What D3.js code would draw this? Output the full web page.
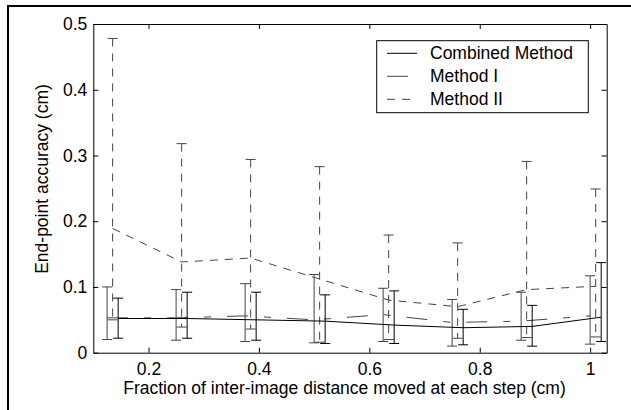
<!DOCTYPE html>
<html lang="en">
<head>
    <meta charset="UTF-8">
    <title>End-point accuracy</title>
    <script src="https://d3js.org/d3.v7.min.js"></script>
    <style>
        body { margin: 0; background: #fff; }
        svg text { font-family: "Liberation Sans", Arial, sans-serif; font-size: 17.5px; fill: #000; }
    </style>
</head>
<body>
    <script>
        // fraction of inter-image distance (each method is drawn slightly offset)
        var steps = [0.125, 0.25, 0.375, 0.5, 0.625, 0.75, 0.875, 1.0];

        var combinedMean  = [0.052, 0.052, 0.050, 0.048, 0.042, 0.038, 0.040, 0.054];
        var combinedUpper = [0.083, 0.092, 0.092, 0.088, 0.094, 0.066, 0.072, 0.137];
        var combinedLower = [0.022, 0.022, 0.019, 0.014, 0.014, 0.012, 0.010, 0.017];

        var method1Mean  = [0.053, 0.053, 0.056, 0.050, 0.058, 0.046, 0.048, 0.056];
        var method1Upper = [0.100, 0.096, 0.105, 0.119, 0.098, 0.081, 0.092, 0.117];
        var method1Lower = [0.020, 0.019, 0.017, 0.015, 0.017, 0.010, 0.019, 0.013];

        var method2Mean  = [0.189, 0.138, 0.144, 0.112, 0.080, 0.070, 0.096, 0.101];
        var method2Upper = [0.478, 0.318, 0.294, 0.283, 0.179, 0.167, 0.291, 0.249];
        var method2Lower = [0.050, 0.039, 0.036, 0.016, 0.020, 0.022, 0.023, 0.024];

        var xTicks = [0.2, 0.4, 0.6, 0.8, 1];
        var yTicks = [0, 0.1, 0.2, 0.3, 0.4, 0.5];
        var legendLabels = ["Combined Method", "Method I", "Method II"];

        var width = 631, height = 410;
        var pl = 93.3, pr = 606.7, pt = 24, pb = 352.7;

        var svg = d3.select("body").append("svg")
            .attr("width", width)
            .attr("height", height);

        // outer figure frame (runs off the right and bottom of the picture)
        svg.append("rect")
            .attr("x", 8).attr("y", 6)
            .attr("width", 700).attr("height", 500)
            .attr("fill", "none")
            .attr("stroke", "#000")
            .attr("stroke-width", 2);

        var x = d3.scaleLinear().domain([0.1, 1.03]).range([pl, pr]);
        var y = d3.scaleLinear().domain([0, 0.5]).range([pb, pt]);

        var fmt = function (d) { return String(+d.toFixed(1)); };

        // axes, ticks pointing inwards on all four sides
        svg.append("g")
            .attr("transform", "translate(0," + pb + ")")
            .call(d3.axisBottom(x).tickValues(xTicks).tickFormat(fmt).tickSizeInner(-5).tickSizeOuter(0).tickPadding(10));
        svg.append("g")
            .attr("transform", "translate(0," + pt + ")")
            .call(d3.axisTop(x).tickValues(xTicks).tickFormat("").tickSizeInner(-5).tickSizeOuter(0));
        svg.append("g")
            .attr("transform", "translate(" + pl + ",0)")
            .call(d3.axisLeft(y).tickValues(yTicks).tickFormat(fmt).tickSizeInner(-5).tickSizeOuter(0).tickPadding(6));
        svg.append("g")
            .attr("transform", "translate(" + pr + ",0)")
            .call(d3.axisRight(y).tickValues(yTicks).tickFormat("").tickSizeInner(-5).tickSizeOuter(0));

        svg.selectAll(".domain, .tick line").attr("stroke", "#000").attr("stroke-width", 1);
        svg.selectAll(".tick text").attr("font-size", 17.5).attr("font-family", null);

        var series = [
            { mean: method1Mean, up: method1Upper, lo: method1Lower, dx: 0,    color: "#444", dash: "21,16,7,16", barDash: null },
            { mean: method2Mean, up: method2Upper, lo: method2Lower, dx: 0.01, color: "#444", dash: "8,7",        barDash: "8,7" },
            { mean: combinedMean, up: combinedUpper, lo: combinedLower, dx: 0.02, color: "#000", dash: null,     barDash: null }
        ];

        var cap = 5;
        series.forEach(function (s) {
            var pts = steps.map(function (st, i) {
                return { x: st + s.dx, m: s.mean[i], u: s.up[i], l: s.lo[i] };
            });
            var g = svg.append("g");

            g.selectAll("line.bar").data(pts).enter().append("line")
                .attr("x1", function (d) { return x(d.x); })
                .attr("x2", function (d) { return x(d.x); })
                .attr("y1", function (d) { return y(d.u); })
                .attr("y2", function (d) { return y(d.l); })
                .attr("stroke", s.color)
                .attr("stroke-dasharray", s.barDash);

            ["u", "l"].forEach(function (k) {
                g.selectAll("line.cap" + k).data(pts).enter().append("line")
                    .attr("x1", function (d) { return x(d.x) - cap; })
                    .attr("x2", function (d) { return x(d.x) + cap; })
                    .attr("y1", function (d) { return y(d[k]); })
                    .attr("y2", function (d) { return y(d[k]); })
                    .attr("stroke", s.color);
            });

            g.append("path")
                .datum(pts)
                .attr("fill", "none")
                .attr("stroke", s.color)
                .attr("stroke-dasharray", s.dash)
                .attr("d", d3.line().x(function (d) { return x(d.x); }).y(function (d) { return y(d.m); }));
        });

        // legend
        var legendOrder = [series[2], series[0], series[1]];
        var lg = svg.append("g");
        lg.append("rect")
            .attr("x", 376.7).attr("y", 40.7)
            .attr("width", 211.6).attr("height", 72)
            .attr("fill", "#fff")
            .attr("stroke", "#000");
        legendLabels.forEach(function (name, i) {
            var yy = 53.3 + i * 23;
            lg.append("line")
                .attr("x1", 387).attr("x2", 417)
                .attr("y1", yy).attr("y2", yy)
                .attr("stroke", legendOrder[i].color)
                .attr("stroke-dasharray", legendOrder[i].dash);
            lg.append("text")
                .attr("x", 430).attr("y", yy)
                .attr("dy", "0.35em")
                .text(name);
        });

        // axis titles
        svg.append("text")
            .attr("x", 344.5).attr("y", 394)
            .attr("text-anchor", "middle")
            .text("Fraction of inter-image distance moved at each step (cm)");
        svg.append("text")
            .attr("transform", "translate(48,179) rotate(-90)")
            .attr("text-anchor", "middle")
            .text("End-point accuracy (cm)");
    </script>
</body>
</html>
